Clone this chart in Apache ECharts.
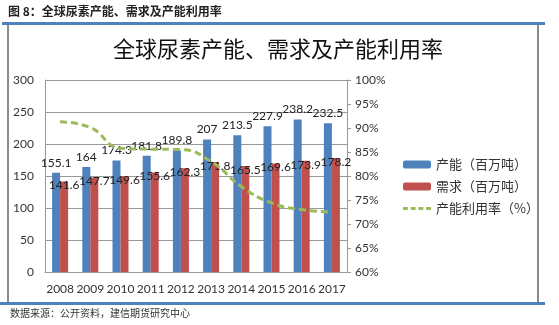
<!DOCTYPE html>
<html><head><meta charset="utf-8">
<script src="https://cdn.jsdelivr.net/npm/echarts@6/dist/echarts.min.js"></script>
<style>html,body{margin:0;padding:0;background:#fff}#c{width:559px;height:325px}</style>
</head><body><div id="c"></div>
<script>
var years = ['2008','2009','2010','2011','2012','2013','2014','2015','2016','2017'];
var capacity = [155.1,164,174.3,181.8,189.8,207,213.5,227.9,238.2,232.5];
var demand = [141.6,147.7,149.6,155.6,162.3,171.8,165.5,169.6,173.9,178.2];
var utilization = [91.3,90.1,85.8,85.6,85.5,83.0,77.8,74.4,73.0,72.5];
var leftTicks = [0,300,50];
var rightTicks = [60,100,5];

var cjk = '"Noto Sans CJK SC", sans-serif';
var lat = 'Lato, "Noto Sans", sans-serif';
var chart = echarts.init(document.getElementById('c'), null, {renderer:'canvas'});
chart.setOption({
  animation:false,
  backgroundColor:'#fff',
  graphic:[
    {type:'text', left:8, top:5, style:{text:'图 8：全球尿素产能、需求及产能利用率', font:'bold 12px '+cjk, fill:'#222'}},
    {type:'rect', shape:{x:2,y:22,width:543,height:3}, style:{fill:'#4F81BD'}},
    {type:'rect', shape:{x:7,y:25,width:2,height:278}, style:{fill:'#8c8c8c'}},
    {type:'rect', shape:{x:537,y:25,width:2,height:278}, style:{fill:'#8c8c8c'}},
    {type:'rect', shape:{x:0,y:302,width:545,height:3}, style:{fill:'#4F81BD'}},
    {type:'text', left:10, top:308, style:{text:'数据来源：公开资料，建信期货研究中心', font:'10px '+cjk, fill:'#333'}}
  ],
  title:{text:'全球尿素产能、需求及产能利用率', left:273, top:33, textAlign:'center',
    textStyle:{fontFamily:cjk, fontSize:22, fontWeight:'normal', color:'#111'}},
  legend:{orient:'vertical', left:398, top:153, itemWidth:28, itemHeight:8, itemGap:9,
    textStyle:{fontFamily:cjk, fontSize:13, color:'#333'},
    data:['产能（百万吨）','需求（百万吨）',
      {name:'产能利用率（%）', icon:'path://M0,0h5v3h-5z M8,0h5v3h-5z M16,0h5v3h-5z M24,0h5v3h-5z'}]},
  grid:{left:45, right:212, top:80, bottom:53},
  xAxis:{type:'category', data:years,
    axisLine:{lineStyle:{color:'#999'}}, axisTick:{show:false},
    axisLabel:{fontFamily:lat, fontSize:12, color:'#333', margin:11, interval:0}},
  yAxis:[
    {type:'value', min:leftTicks[0], max:leftTicks[1], interval:leftTicks[2],
      axisLine:{show:true, lineStyle:{color:'#999'}}, axisTick:{show:false},
      splitLine:{lineStyle:{color:'#999'}},
      axisLabel:{fontFamily:lat, fontSize:12, color:'#333', margin:11}},
    {type:'value', min:rightTicks[0], max:rightTicks[1], interval:rightTicks[2],
      axisLine:{show:true, lineStyle:{color:'#999'}}, axisTick:{show:true, length:4, lineStyle:{color:'#999'}},
      splitLine:{show:false},
      axisLabel:{fontFamily:lat, fontSize:12, color:'#333', margin:8, formatter:'{value}%'}}
  ],
  series:[
    {name:'产能（百万吨）', type:'bar', data:capacity, barWidth:8, barGap:'0%',
      itemStyle:{color:'#4F81BD'},
      label:{show:true, position:'top', distance:4, fontFamily:lat, fontSize:12, color:'#222'}},
    {name:'需求（百万吨）', type:'bar', data:demand, barWidth:8, barGap:'0%',
      itemStyle:{color:'#C0504D'},
      label:{show:true, position:'insideTop', distance:-2, fontFamily:lat, fontSize:12, color:'#222'}},
    {name:'产能利用率（%）', type:'line', yAxisIndex:1, data:utilization, smooth:true,
      symbol:'none', lineStyle:{color:'#9BBB59', width:3, type:[7,4]}, itemStyle:{color:'#9BBB59'}, z:5}
  ]
});
</script></body></html>
